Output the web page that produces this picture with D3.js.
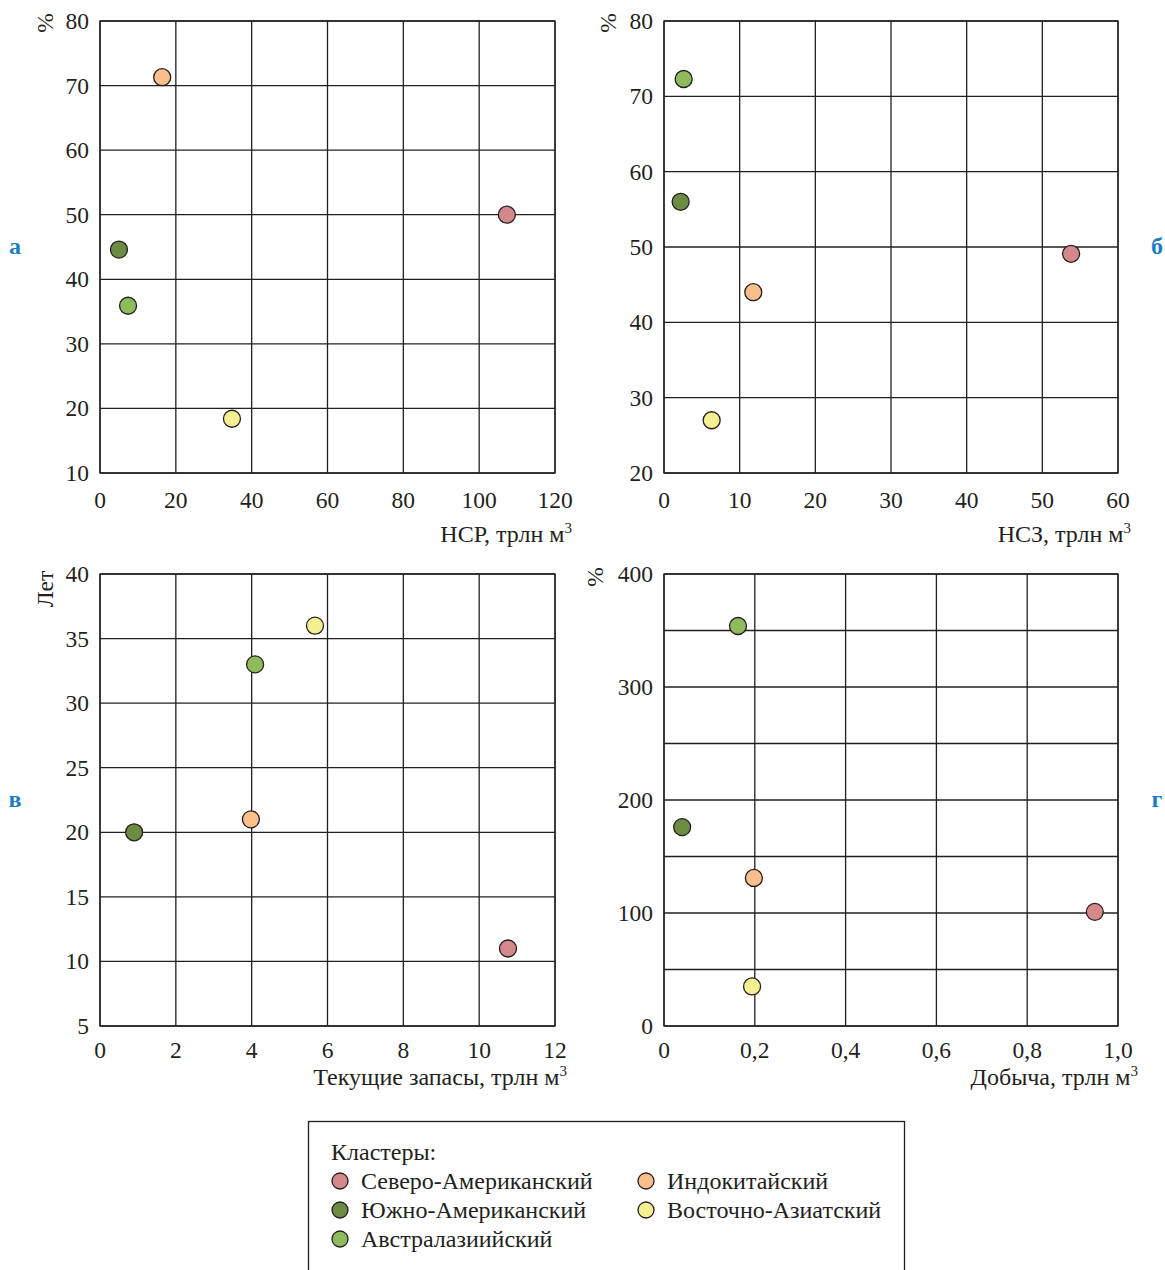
<!DOCTYPE html>
<html><head><meta charset="utf-8">
<script src="https://cdn.jsdelivr.net/npm/d3@7"></script>
<style>
body{margin:0;background:#fff;}
svg text{font-family:"Liberation Serif","DejaVu Serif",serif;fill:#231f20;}
</style></head>
<body><svg id="c" width="1165" height="1270" font-family="Liberation Serif, DejaVu Serif, serif"></svg>
<script>
const clusters = ["Северо-Американский","Южно-Американский","Австралазиийский","Индокитайский","Восточно-Азиатский"];
const colors = ["#d4888a","#6b8c42","#8fbb5c","#fcbf8b","#f4f092"];
// panel а: НСР (трлн м3) vs %
const aX = [107.3, 5.0, 7.4, 16.4, 34.8];
const aY = [50.0, 44.6, 35.9, 71.3, 18.4];
// panel б: НСЗ vs %
const bX = [53.8, 2.2, 2.6, 11.8, 6.3];
const bY = [49.1, 56.0, 72.3, 44.0, 27.0];
// panel в: Текущие запасы vs Лет
const cX = [10.76, 0.9, 4.09, 3.98, 5.67];
const cY = [11.0, 20.0, 33.0, 21.0, 36.0];
// panel г: Добыча vs %
const dX = [0.949, 0.04, 0.163, 0.198, 0.194];
const dY = [101, 176, 354, 131, 35];

const aXTicks=[0,20,40,60,80,100,120], aYTicks=[10,20,30,40,50,60,70,80];
const bXTicks=[0,10,20,30,40,50,60], bYTicks=[20,30,40,50,60,70,80];
const cXTicks=[0,2,4,6,8,10,12], cYTicks=[5,10,15,20,25,30,35,40];
const dXTicks=[0,0.2,0.4,0.6,0.8,1.0], dYTicks=[0,100,200,300,400], dYGrid=[0,50,100,150,200,250,300,350,400];

const svg=d3.select("#c");
const ink="#231f20";
const FF="Liberation Serif, DejaVu Serif, serif";
const fmtComma=d=>d===0?"0":d3.format(".1f")(d).replace(".",",");

function panel(o){
  const x=d3.scaleLinear().domain(o.xd).range([o.l,o.r]);
  const y=d3.scaleLinear().domain(o.yd).range([o.b,o.t]);
  const g=svg.append("g").attr("font-family",FF);
  g.selectAll(".vx").data(o.xt).join("line")
    .attr("x1",d=>x(d)).attr("x2",d=>x(d)).attr("y1",o.t).attr("y2",o.b)
    .attr("stroke",ink).attr("stroke-width",1.3);
  g.selectAll(".hy").data(o.yg||o.yt).join("line")
    .attr("y1",d=>y(d)).attr("y2",d=>y(d)).attr("x1",o.l).attr("x2",o.r)
    .attr("stroke",ink).attr("stroke-width",1.3);
  g.append("rect").attr("x",o.l).attr("y",o.t).attr("width",o.r-o.l).attr("height",o.b-o.t)
    .attr("fill","none").attr("stroke",ink).attr("stroke-width",1.3);
  const fx=o.fx||(d=>d);
  g.selectAll(".xl").data(o.xt).join("text")
    .attr("x",d=>x(d)).attr("y",o.b+o.xly).attr("text-anchor","middle")
    .attr("font-size",23.5).text(fx);
  g.selectAll(".yl").data(o.yt).join("text")
    .attr("x",o.l-11).attr("y",d=>y(d)+8).attr("text-anchor","end")
    .attr("font-size",23.5).text(d=>d);
  const t=g.append("text").attr("x",o.xtx).attr("y",o.b+o.xty).attr("text-anchor","end").attr("font-size",24);
  t.append("tspan").text(o.xtitle);
  t.append("tspan").attr("font-size",15).attr("dy",-9).text("3");
  g.append("text").attr("transform",`translate(${o.yx},${o.yy}) rotate(-90)`)
    .attr("text-anchor","middle").attr("font-size",23.5).text(o.ytitle);
  g.append("text").attr("x",o.lx).attr("y",(o.t+o.b)/2+7).attr("text-anchor","middle")
    .attr("font-size",24).attr("font-weight","bold").style("fill","#1b7dc4").text(o.letter);
  g.selectAll(".pt").data(o.xs.map((v,i)=>({x:v,y:o.ys[i],c:colors[i]}))).join("circle")
    .attr("cx",d=>x(d.x)).attr("cy",d=>y(d.y)).attr("r",8.5)
    .attr("fill",d=>d.c).attr("stroke",ink).attr("stroke-width",1.3);
}

panel({l:100,r:555,t:21,b:473,xd:[0,120],yd:[10,80],xt:aXTicks,yt:aYTicks,xs:aX,ys:aY,xly:35,xty:69,
  xtitle:"НСР, трлн м",xtx:572,ytitle:"%",yx:53,yy:23,letter:"а",lx:15});
panel({l:664,r:1118,t:21,b:473,xd:[0,60],yd:[20,80],xt:bXTicks,yt:bYTicks,xs:bX,ys:bY,xly:35,xty:69,
  xtitle:"НСЗ, трлн м",xtx:1131,ytitle:"%",yx:616,yy:23,letter:"б",lx:1157});
panel({l:100,r:555,t:574,b:1026,xd:[0,12],yd:[5,40],xt:cXTicks,yt:cYTicks,xs:cX,ys:cY,xly:32,xty:59,
  xtitle:"Текущие запасы, трлн м",xtx:567,ytitle:"Лет",yx:53,yy:589,letter:"в",lx:15});
panel({l:664,r:1118,t:574,b:1026,xd:[0,1],yd:[0,400],xt:dXTicks,yt:dYTicks,yg:dYGrid,xs:dX,ys:dY,fx:fmtComma,xly:32,xty:59,
  xtitle:"Добыча, трлн м",xtx:1138,ytitle:"%",yx:603,yy:577,letter:"г",lx:1157});

// legend
const lg=svg.append("g").attr("font-family",FF);
lg.append("rect").attr("x",308.5).attr("y",1121.5).attr("width",596).attr("height",160)
  .attr("fill","none").attr("stroke",ink).attr("stroke-width",1.3);
lg.append("text").attr("x",331).attr("y",1160).attr("font-size",24).text("Кластеры:");
const pos=[[0,0],[0,1],[0,2],[1,0],[1,1]];
const items=lg.selectAll(".li").data(clusters.map((n,i)=>({n,c:colors[i],col:pos[i][0],row:pos[i][1]}))).join("g")
  .attr("transform",d=>`translate(${d.col?646:340},${1181+d.row*29})`);
items.append("circle").attr("r",8).attr("fill",d=>d.c).attr("stroke",ink).attr("stroke-width",1.3);
items.append("text").attr("x",21).attr("y",8).attr("font-size",24).text(d=>d.n);
</script></body></html>
